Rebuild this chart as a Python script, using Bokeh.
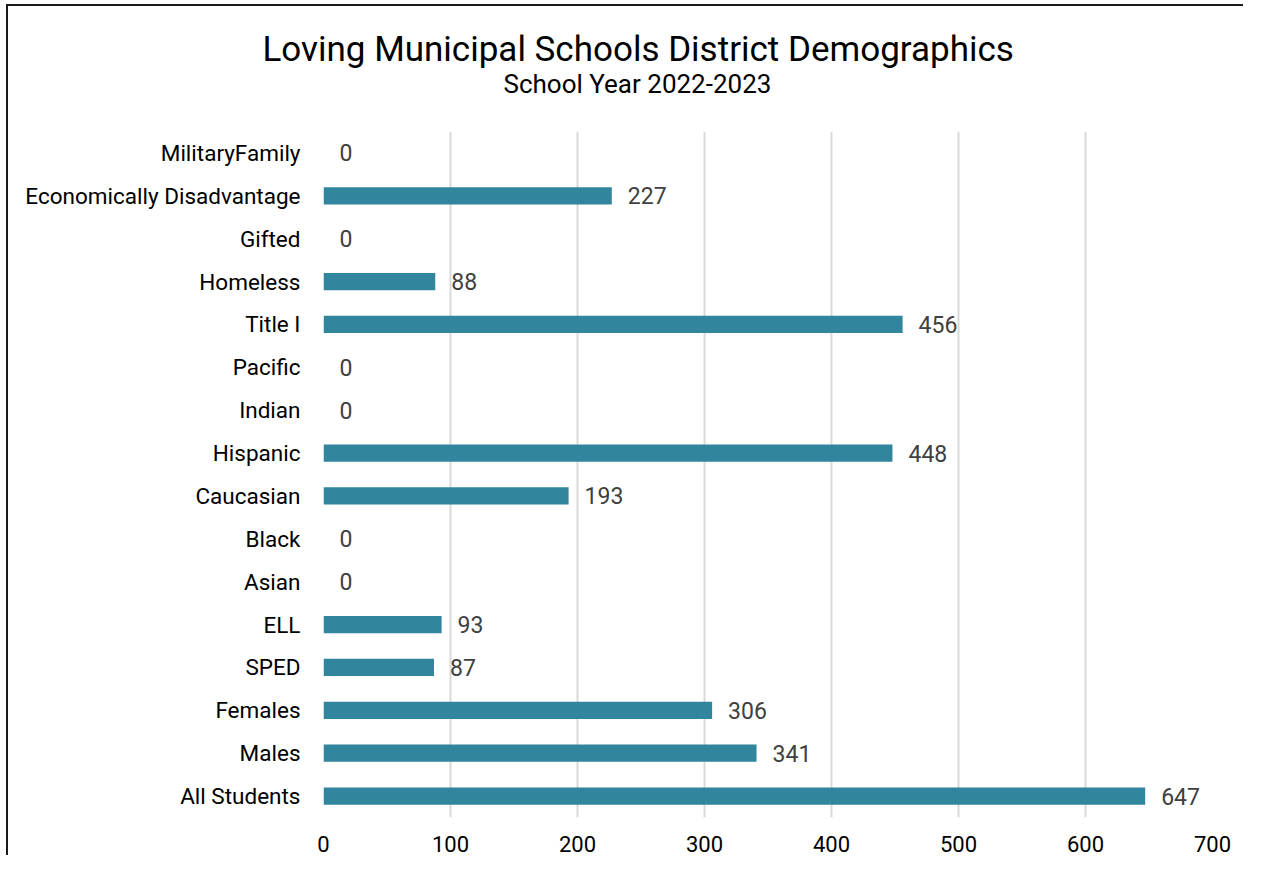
from bokeh.plotting import figure
from bokeh.models import FactorRange, Range1d, ColumnDataSource, FixedTicker, LabelSet, Title
from bokeh.embed import file_html
from bokeh.resources import INLINE
from bokeh.core.properties import value

# ---- data (top to bottom as shown) ----
categories = ["MilitaryFamily", "Economically Disadvantage", "Gifted", "Homeless",
              "Title I", "Pacific", "Indian", "Hispanic", "Caucasian", "Black",
              "Asian", "ELL", "SPED", "Females", "Males", "All Students"]
counts = [0, 227, 0, 88, 456, 0, 0, 448, 193, 0, 0, 93, 87, 306, 341, 647]
x_ticks = [0, 100, 200, 300, 400, 500, 600, 700]
title_text = "Loving Municipal Schools District Demographics"
subtitle_text = "School Year 2022-2023"

FONT = "Roboto"

factors = categories[::-1]
src = ColumnDataSource(dict(cat=categories, n=counts, lbl=[str(c) for c in counts]))

p = figure(width=1237, height=851,
           y_range=FactorRange(*factors), x_range=Range1d(0, 700),
           output_backend="svg", toolbar_location=None,
           min_border_left=315, min_border_right=33,
           min_border_top=125, min_border_bottom=40,
           title=None)

p.styles = {"border-left": "2px solid #1a1a1a", "border-top": "2px solid #1a1a1a",
            "margin-left": "6px", "margin-top": "4px"}
p.background_fill_color = "white"
p.border_fill_color = "white"
p.outline_line_color = None

p.hbar(y="cat", left=0, right="n", height=0.4, source=src,
       fill_color="#31859C", line_color=None)

labels = LabelSet(x="n", y="cat", text="lbl", source=src, x_offset=16,
                  text_baseline="middle", text_align="left",
                  text_font=value(FONT), text_font_size="23px", text_color="#404040")
p.add_layout(labels)

# subtitle (closest to frame) then main title
sub = Title(text=subtitle_text, align="left", offset=180, standoff=65,
            text_font=FONT, text_font_size="26px", text_font_style="normal",
            text_color="#000000")
p.add_layout(sub, "above")
main = Title(text=title_text, align="left", offset=-61, standoff=-71,
             text_font=FONT, text_font_size="35px", text_font_style="normal",
             text_color="#000000")
p.add_layout(main, "above")

# axes
p.xaxis.ticker = FixedTicker(ticks=x_ticks)
p.xaxis.axis_line_color = None
p.xaxis.major_tick_line_color = None
p.xaxis.minor_tick_line_color = None
p.xaxis.major_tick_out = 0
p.xaxis.major_tick_in = 0
p.xaxis.major_label_standoff = 18
p.xaxis.major_label_text_font = FONT
p.xaxis.major_label_text_font_size = "22px"
p.xaxis.major_label_text_color = "#000000"

p.yaxis.axis_line_color = None
p.yaxis.major_tick_line_color = None
p.yaxis.minor_tick_line_color = None
p.yaxis.major_tick_out = 0
p.yaxis.major_tick_in = 0
p.yaxis.major_label_standoff = 23
p.yaxis.major_label_text_font = FONT
p.yaxis.major_label_text_font_size = "22.5px"
p.yaxis.major_label_text_color = "#000000"

p.xgrid.ticker = FixedTicker(ticks=x_ticks)
p.xgrid.grid_line_color = "#d9d9d9"
p.xgrid.grid_line_width = 2
p.ygrid.visible = False

open("out.html", "w").write(file_html(p, INLINE))
